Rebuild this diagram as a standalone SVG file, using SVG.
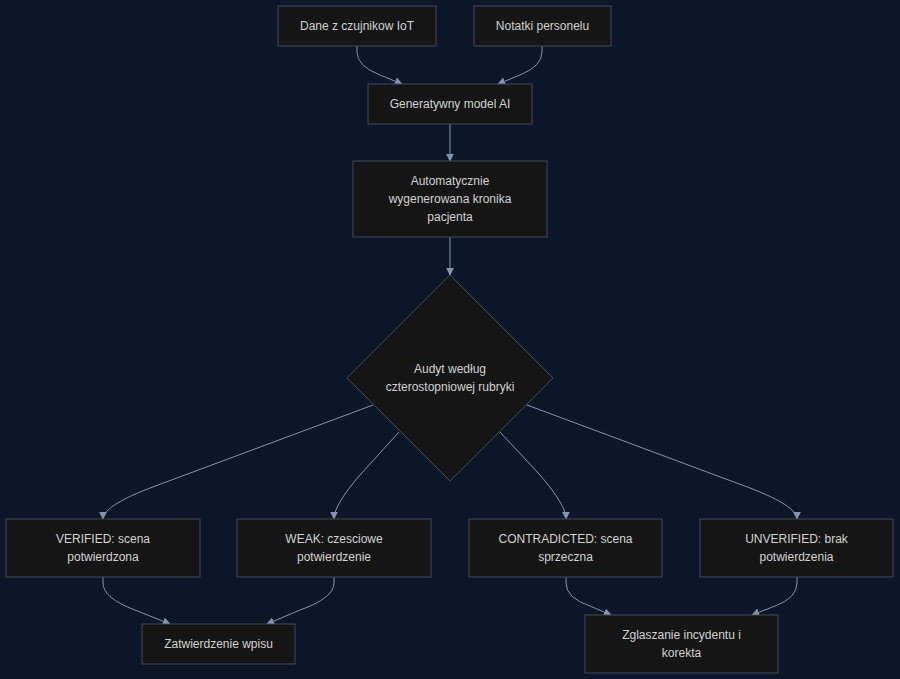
<svg xmlns="http://www.w3.org/2000/svg" width="900" height="679" viewBox="0 0 900 679">
<defs>
<style>
.node rect, .node polygon { fill:#161616; stroke:#3e4a5c; stroke-width:1; }
.node text { fill:#d2d2d2; font-family:"Liberation Sans", Arial, sans-serif; font-size:12px; text-anchor:middle; }
.edges path { fill:none; stroke:#8494ad; stroke-width:1; marker-end:url(#arr); }
</style>
<marker id="arr" viewBox="0 0 10 10" refX="9" refY="5" markerWidth="8" markerHeight="8" markerUnits="userSpaceOnUse" orient="auto">
<path d="M0,0 L10,5 L0,10 z" fill="#8494ad"/>
</marker>
</defs>
<rect width="900" height="679" fill="#0e1729"/>
<g class="edges">
<path d="M357,46 L357,52 Q357,66 380,75 L402,84"/>
<path d="M542,46 L542,52 Q542,66 520,75 L498,84"/>
<path d="M450,124 L450,161"/>
<path d="M450,237 L450,275"/>
<path d="M373,405 L150,488 Q103,506 103,519"/>
<path d="M399,432 L360,475 Q334,505 334,519"/>
<path d="M500,432 L540,475 Q566,505 566,519"/>
<path d="M527,405 L750,488 Q797,506 797,519"/>
<path d="M103,577 L103,583 Q103,598 135,610 L170,624"/>
<path d="M334,577 L334,583 Q334,598 300,610 L267,624"/>
<path d="M566,577 L566,583 Q566,598 590,606 L611,615"/>
<path d="M797,577 L797,583 Q797,598 775,606 L752,615"/>
</g>
<g class="node" id="n-iot"><rect x="278" y="6" width="158" height="40"/><text x="357" y="30">Dane z czujnikow IoT</text></g>
<g class="node" id="n-notes"><rect x="474" y="6" width="137" height="40"/><text x="542.5" y="30">Notatki personelu</text></g>
<g class="node" id="n-ai"><rect x="368" y="84" width="164" height="40"/><text x="450" y="108">Generatywny model AI</text></g>
<g class="node" id="n-chron"><rect x="353" y="161" width="194" height="76"/><text x="450" y="185">Automatycznie</text><text x="450" y="203">wygenerowana kronika</text><text x="450" y="221">pacjenta</text></g>
<g class="node" id="n-audit"><polygon points="450,275 553,378 450,481 347,378"/><text x="450" y="373">Audyt według</text><text x="450" y="391">czterostopniowej rubryki</text></g>
<g class="node" id="n-verified"><rect x="6" y="519" width="194" height="58"/><text x="103" y="543">VERIFIED: scena</text><text x="103" y="561">potwierdzona</text></g>
<g class="node" id="n-weak"><rect x="237" y="519" width="194" height="58"/><text x="334" y="543">WEAK: czesciowe</text><text x="334" y="561">potwierdzenie</text></g>
<g class="node" id="n-contra"><rect x="469" y="519" width="193" height="58"/><text x="565.5" y="543">CONTRADICTED: scena</text><text x="565.5" y="561">sprzeczna</text></g>
<g class="node" id="n-unver"><rect x="700" y="519" width="193" height="58"/><text x="796.5" y="543">UNVERIFIED: brak</text><text x="796.5" y="561">potwierdzenia</text></g>
<g class="node" id="n-approve"><rect x="142" y="624" width="153" height="40"/><text x="218.5" y="648">Zatwierdzenie wpisu</text></g>
<g class="node" id="n-report"><rect x="585" y="615" width="193" height="58"/><text x="681.5" y="639">Zglaszanie incydentu i</text><text x="681.5" y="657">korekta</text></g>
</svg>
